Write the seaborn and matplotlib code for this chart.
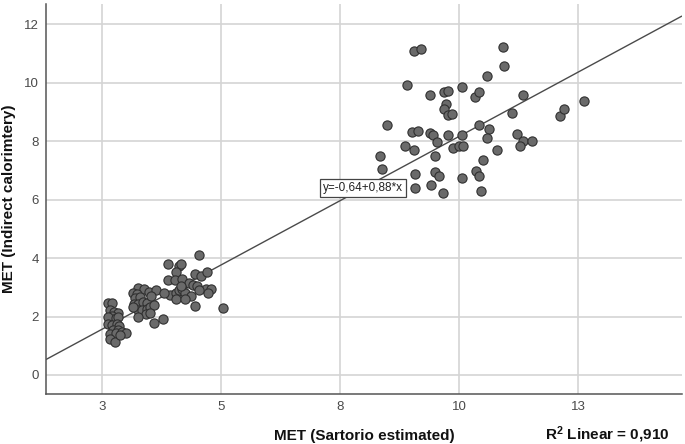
import numpy as np
import pandas as pd
import matplotlib
matplotlib.use("Agg")
import matplotlib.pyplot as plt
import seaborn as sns

# MET values (Sartorio estimated vs indirect calorimetry)
met_sartorio = [
    # low-intensity group
    2.64, 2.72, 2.68, 2.76, 2.83, 2.72, 2.64, 2.79, 2.85, 2.63, 2.72, 2.81,
    2.86, 2.74, 2.85, 2.67, 2.79, 2.92, 3.00, 2.67, 2.78, 2.88,
    3.27, 3.39, 3.15, 3.23, 3.50, 3.63, 3.20, 3.30, 3.18, 3.27, 3.36, 3.44,
    3.53, 3.25, 3.34, 3.44, 3.51, 3.60, 3.16, 3.42, 3.26, 3.60, 3.78, 3.51,
    4.55, 3.88, 4.13, 4.17, 4.06, 4.46, 4.59, 4.71, 3.88, 4.04, 4.18, 4.33,
    4.41, 4.50, 4.68, 4.79, 4.72, 3.94, 4.06, 4.11, 4.18, 4.25, 4.37, 4.05,
    4.25, 4.46, 5.04, 4.16, 3.81, 4.55,
    # high-intensity group
    9.06, 9.19, 8.90, 9.38, 9.69, 9.77, 10.06, 10.33, 10.41, 9.72, 9.69, 9.77,
    9.84, 8.49, 9.01, 9.13, 9.38, 9.45, 9.77, 9.53, 10.06, 10.42, 8.86, 9.06,
    9.86, 9.99, 10.07, 8.34, 9.50, 8.38, 9.08, 9.49, 9.58, 10.06, 10.36, 10.42,
    9.07, 9.41, 9.66, 10.45, 10.92, 10.95, 10.59, 11.33, 11.10, 12.11, 12.21,
    12.61, 10.62, 10.58, 11.21, 11.34, 11.53, 11.28, 10.79, 10.49,
]
met_calorimetry = [
    2.46, 2.45, 2.23, 2.15, 2.12, 2.02, 1.98, 1.94, 1.99, 1.74, 1.71, 1.75,
    1.68, 1.54, 1.54, 1.40, 1.43, 1.48, 1.45, 1.22, 1.14, 1.37,
    2.97, 2.93, 2.80, 2.77, 2.85, 2.92, 2.63, 2.65, 2.43, 2.42, 2.48, 2.46,
    2.71, 2.23, 2.23, 2.25, 2.32, 2.40, 2.34, 2.09, 1.97, 1.79, 1.90, 2.12,
    4.12, 3.79, 3.74, 3.78, 3.52, 3.47, 3.39, 3.52, 3.24, 3.24, 3.29, 3.13,
    3.08, 3.04, 2.95, 2.95, 2.81, 2.74, 2.80, 2.91, 2.95, 2.82, 2.70, 2.59,
    2.60, 2.36, 2.30, 3.05, 2.80, 2.91,
    11.07, 11.16, 9.93, 9.57, 9.66, 9.72, 9.86, 9.52, 9.67, 9.28, 9.10, 8.89,
    8.93, 8.54, 8.32, 8.35, 8.26, 8.19, 8.21, 7.98, 8.21, 8.54, 7.83, 7.69,
    7.77, 7.84, 7.84, 7.49, 7.49, 7.04, 6.88, 6.94, 6.81, 6.75, 6.99, 6.82,
    6.39, 6.48, 6.22, 6.28, 11.21, 10.55, 10.22, 9.56, 8.97, 8.85, 9.10,
    9.37, 8.42, 8.10, 8.25, 8.01, 8.01, 7.82, 7.69, 7.36,
]

fit_intercept = -0.64
fit_slope = 0.88
r_squared = "0,910"

x_ticks = [2.5, 5, 7.5, 10, 12.5]
x_tick_labels = ["3", "5", "8", "10", "13"]
y_ticks = [0, 2, 4, 6, 8, 10, 12]

df = pd.DataFrame({"sartorio": met_sartorio, "calorimetry": met_calorimetry})

sns.set_style("whitegrid")
plt.rcParams["font.family"] = ["Liberation Sans", "DejaVu Sans"]
plt.rcParams["mathtext.fontset"] = "custom"
plt.rcParams["mathtext.rm"] = "Liberation Sans"
plt.rcParams["mathtext.bf"] = "Liberation Sans:bold"

fig = plt.figure(figsize=(6.85, 4.44), dpi=100)
ax = fig.add_axes([0.0672, 0.1126, 0.928, 0.878])

sns.scatterplot(data=df, x="sartorio", y="calorimetry", ax=ax,
                s=44, color="#6a6a6a", edgecolor="#303030", linewidth=0.8,
                zorder=3)

# fit line across the whole plot
ax.axline((0, fit_intercept), slope=fit_slope, color="#4a4a4a", lw=1.0, zorder=2)

ax.set_xlim(1.33, 14.67)
ax.set_ylim(-0.65, 12.68)
ax.set_xticks(x_ticks)
ax.set_xticklabels(x_tick_labels)
ax.set_yticks(y_ticks)
ax.tick_params(length=0, labelsize=9.5, labelcolor="#4a4a4a", pad=5)

ax.grid(True, color="#d4d4d4", lw=1.2)
for side in ["top", "right"]:
    ax.spines[side].set_visible(False)
for side in ["left", "bottom"]:
    ax.spines[side].set_color("#555555")
    ax.spines[side].set_linewidth(1.1)

ax.set_xlabel("MET (Sartorio estimated)", fontsize=11, fontweight="bold", color="#111111")
ax.set_ylabel("MET (Indirect calorimtery)", fontsize=11, fontweight="bold", color="#111111")
ax.xaxis.set_label_coords(0.5, -0.09)
ax.yaxis.set_label_coords(-0.058, 0.5)
ax.yaxis.label.set_va("center")

# equation label sitting on the fit line
eq_x = 7.98
ax.text(eq_x, fit_intercept + fit_slope * eq_x, "y=-0,64+0,88*x",
        fontsize=8.5, ha="center", va="center", color="#222222", zorder=4,
        bbox=dict(boxstyle="square,pad=0.25", fc="white", ec="#444444", lw=0.9))

fig.text(0.977, 0.02, r"$\mathbf{R^2}$ Linear = " + r_squared, fontsize=11,
         fontweight="bold", ha="right", va="center", color="#111111")

fig.savefig("out.png", dpi=100)
